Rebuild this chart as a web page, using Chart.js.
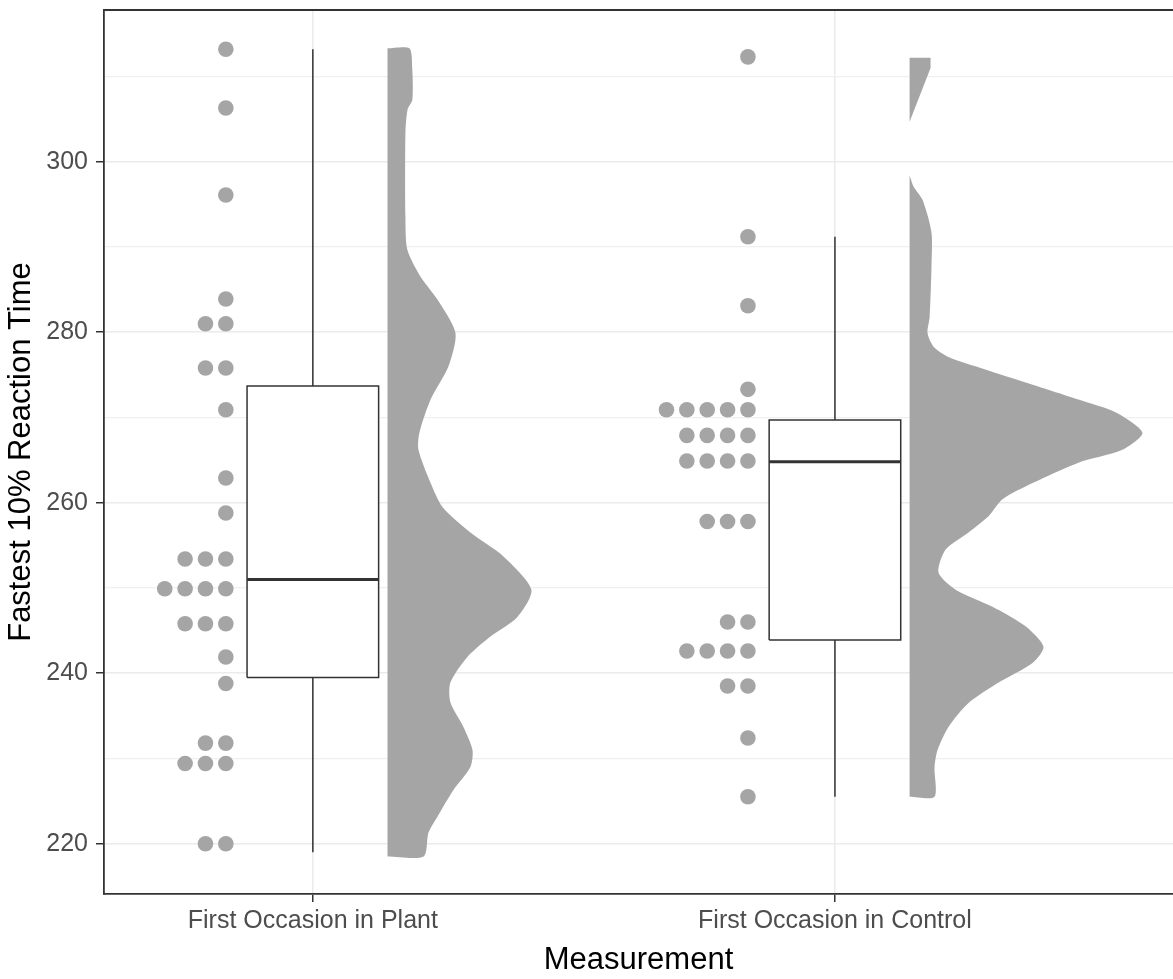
<!DOCTYPE html>
<html>
<head>
<meta charset="utf-8">
<script src="https://cdn.jsdelivr.net/npm/chart.js@4.4.0/dist/chart.umd.min.js"></script>
<style>
    html, body { margin: 0; padding: 0; background: #fff; overflow: hidden; }
    canvas { display: block; }
</style>
</head>
<body>
<canvas id="raincloud" width="1173" height="979"></canvas>
<script>
// --- data ---
const groups = ['First Occasion in Plant', 'First Occasion in Control'];

// one entry per dot (dotplot bin centres)
const plantDots = [313.2, 306.3, 296.1, 283.9, 281.0, 281.0, 275.8, 275.8, 270.9, 262.9,
    258.8, 253.4, 253.4, 253.4, 249.9, 249.9, 249.9, 249.9, 245.8, 245.8,
    245.8, 241.9, 238.8, 231.8, 231.8, 229.4, 229.4, 229.4, 220.0, 220.0];
const controlDots = [312.3, 291.2, 283.1, 273.3, 270.9, 270.9, 270.9, 270.9, 270.9, 267.9,
    267.9, 267.9, 267.9, 264.9, 264.9, 264.9, 264.9, 257.8, 257.8, 257.8,
    246.0, 246.0, 242.6, 242.6, 242.6, 242.6, 238.5, 238.5, 232.4, 225.5];

// [min, q1, median, q3, max]
const plantBox = [219.0, 239.5, 251.0, 273.7, 313.2];
const controlBox = [225.5, 243.9, 264.8, 269.7, 291.2];

// half violins: value and relative density (control peak = 1)
const plantViolinY = [313.3, 311.1, 307.3, 306.1, 303.4, 293.5, 289.7, 286.5, 283.8, 279.9,
    276.0, 272.1, 268.2, 266.2, 262.3, 259.5, 256.5, 253.7, 249.8, 246.6,
    244.3, 241.9, 238.9, 236.6, 233.7, 231.0, 229.0, 226.3, 223.2, 221.3, 218.5];
const plantViolinD = [0.094, 0.106, 0.107, 0.086, 0.077, 0.077, 0.085, 0.142, 0.215, 0.292,
    0.262, 0.185, 0.137, 0.133, 0.185, 0.236, 0.356, 0.498, 0.618, 0.558,
    0.442, 0.343, 0.270, 0.270, 0.326, 0.365, 0.356, 0.283, 0.215, 0.176, 0.155];
const controlViolinTopY = [312.2, 311.0, 304.7];
const controlViolinTopD = [0.090, 0.090, 0];
const controlViolinY = [298.4, 297.1, 295.5, 291.7, 287.7, 281.8, 279.9, 278.3, 277.1, 276.0,
    274.1, 272.1, 270.6, 268.2, 266.2, 264.7, 262.3, 260.4, 258.4, 256.5,
    254.5, 251.8, 249.8, 247.8, 245.5, 243.1, 241.2, 238.9, 236.5, 233.7,
    231.0, 229.0, 225.5];
const controlViolinD = [0, 0.017, 0.056, 0.094, 0.094, 0.086, 0.077, 0.103, 0.167, 0.283,
    0.498, 0.725, 0.884, 1.000, 0.914, 0.725, 0.528, 0.399, 0.339, 0.253,
    0.155, 0.124, 0.197, 0.356, 0.498, 0.575, 0.528, 0.382, 0.253, 0.167,
    0.120, 0.107, 0.107];

const yTickLabels = [220, 240, 260, 280, 300];
const yGridValues = [220, 230, 240, 250, 260, 270, 280, 290, 300, 310];

// --- style / layout ---
const GREY = '#A5A5A5';
const INK = '#333333';
const FONT = 'Liberation Sans, Arial, sans-serif';
const DOT_COL = -1 / 6;     // rightmost dot column, from group centre
const DOT_STEP = 0.039;
const VIOLIN_BASE = 0.143;
const VIOLIN_SCALE = 0.446;
const BOX_HALF = 0.126;

function dotPoints(values, centre) {
    const seen = {};
    return values.map(v => {
        const k = v.toFixed(1);
        const i = seen[k] || 0;
        seen[k] = i + 1;
        return { x: centre + DOT_COL - i * DOT_STEP, y: v };
    });
}

function violinPoints(ys, ds, centre) {
    const base = centre + VIOLIN_BASE;
    const pts = [{ x: base, y: ys[0] }];
    ys.forEach((y, i) => pts.push({ x: base + ds[i] * VIOLIN_SCALE, y }));
    pts.push({ x: base, y: ys[ys.length - 1] });
    return pts;
}

function shape(data, color, order, tension) {
    return { data, showLine: true, fill: 'shape', backgroundColor: color, borderWidth: 0,
        borderColor: color, pointRadius: 0, tension: tension || 0, order };
}

function segment(data, width, order) {
    return { data, showLine: true, fill: false, borderColor: INK, borderWidth: width,
        pointRadius: 0, order };
}

function boxDatasets(s, centre) {
    const [mn, q1, med, q3, mx] = s;
    const l = centre - BOX_HALF, r = centre + BOX_HALF;
    return [
        segment([{ x: centre, y: mx }, { x: centre, y: q3 }], 1.5, 3),
        segment([{ x: centre, y: q1 }, { x: centre, y: mn }], 1.5, 3),
        { data: [{ x: l, y: q1 }, { x: l, y: q3 }, { x: r, y: q3 }, { x: r, y: q1 }, { x: l, y: q1 }],
          showLine: true, fill: 'shape', backgroundColor: '#ffffff', borderColor: INK,
          borderWidth: 1.5, pointRadius: 0, order: 3 },
        segment([{ x: l, y: med }, { x: r, y: med }], 3, 2)
    ];
}

function dots(values, centre) {
    return { data: dotPoints(values, centre), showLine: false, pointRadius: 7.8,
        pointBackgroundColor: GREY, pointBorderWidth: 0, order: 1 };
}

// top frame line (right side of the panel is cut off in the figure)
const frameTop = {
    id: 'frameTop',
    afterDatasetsDraw(chart) {
        const { ctx, chartArea: a } = chart;
        ctx.save();
        ctx.strokeStyle = INK;
        ctx.lineWidth = 1.8;
        ctx.beginPath();
        ctx.moveTo(a.left, a.top);
        ctx.lineTo(a.right, a.top);
        ctx.stroke();
        ctx.restore();
    }
};

const isMajor = v => yTickLabels.includes(v);

new Chart(document.getElementById('raincloud'), {
    type: 'scatter',
    data: {
        datasets: [
            dots(plantDots, 1),
            dots(controlDots, 2),
            ...boxDatasets(plantBox, 1),
            ...boxDatasets(controlBox, 2),
            shape(violinPoints(plantViolinY, plantViolinD, 1), GREY, 4, 0.25),
            shape(violinPoints(controlViolinTopY, controlViolinTopD, 2), GREY, 4, 0),
            shape(violinPoints(controlViolinY, controlViolinD, 2), GREY, 4, 0.25)
        ]
    },
    options: {
        responsive: false,
        animation: false,
        events: [],
        layout: { autoPadding: false, padding: { top: 10, right: 0, bottom: 0, left: 0 } },
        plugins: { legend: { display: false }, tooltip: { enabled: false } },
        scales: {
            x: {
                type: 'linear',
                min: 0.6,
                max: 2.6475,
                afterBuildTicks: axis => { axis.ticks = [1, 2].map(v => ({ value: v })); },
                afterFit: axis => {
                    axis.height = 85;
                    axis.paddingLeft = 0;
                    axis.paddingRight = 0;
                },
                ticks: {
                    callback: v => groups[v - 1],
                    color: '#4D4D4D',
                    font: { family: FONT, size: 25 },
                    padding: 4,
                    maxRotation: 0,
                    autoSkip: false
                },
                grid: { color: '#EBEBEB', lineWidth: 1.5, tickLength: 8, tickColor: INK, tickWidth: 1.5 },
                border: { color: INK, width: 1.8 },
                title: {
                    display: true,
                    text: 'Measurement',
                    color: '#000',
                    font: { family: FONT, size: 31 },
                    padding: { top: 0, bottom: 0 }
                }
            },
            y: {
                type: 'linear',
                min: 214.1,
                max: 317.8,
                afterBuildTicks: axis => { axis.ticks = yGridValues.map(v => ({ value: v })); },
                afterFit: axis => {
                    axis.width = 104;
                    axis.paddingTop = 0;
                    axis.paddingBottom = 0;
                },
                ticks: {
                    callback: v => isMajor(v) ? String(v) : '',
                    color: '#4D4D4D',
                    font: { family: FONT, size: 25 },
                    padding: 8,
                    autoSkip: false
                },
                grid: {
                    color: c => isMajor(c.tick.value) ? '#EBEBEB' : '#F0F0F0',
                    lineWidth: c => isMajor(c.tick.value) ? 1.5 : 1.2,
                    tickLength: 8,
                    tickColor: c => isMajor(c.tick.value) ? INK : 'rgba(0,0,0,0)',
                    tickWidth: 1.5
                },
                border: { color: INK, width: 1.8 },
                title: {
                    display: true,
                    text: 'Fastest 10% Reaction Time',
                    color: '#000',
                    font: { family: FONT, size: 31 },
                    padding: { top: 3, bottom: 0 }
                }
            }
        }
    },
    plugins: [frameTop]
});
</script>
</body>
</html>
